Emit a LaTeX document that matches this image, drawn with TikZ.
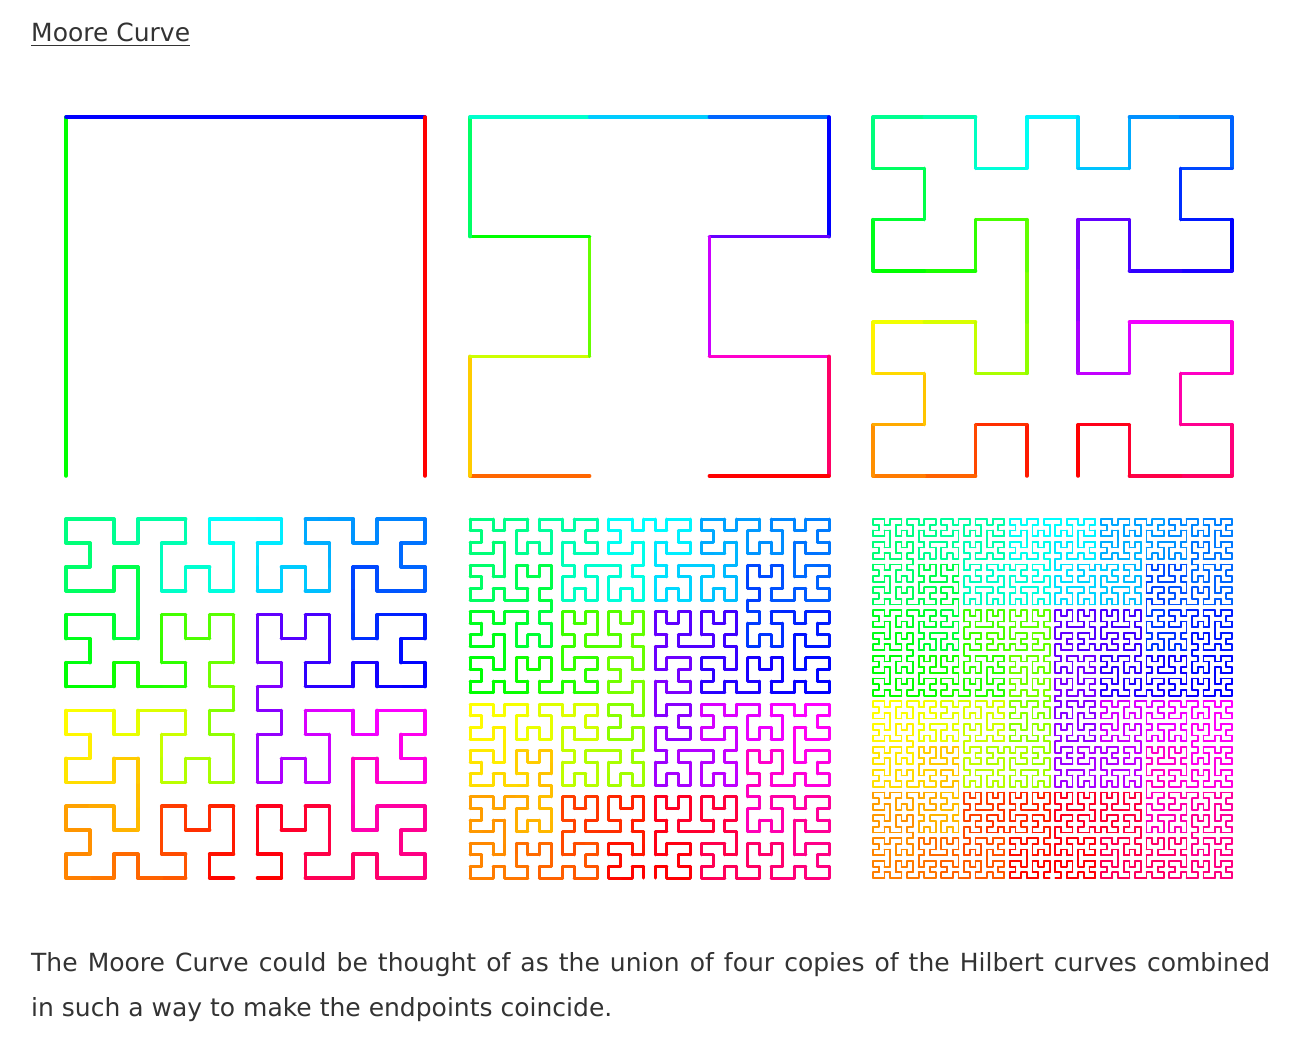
\documentclass[tikz,border=0pt]{standalone}
\usepackage{fontspec}
\setmainfont{DejaVu Sans}
\definecolor{textgray}{HTML}{333333}

\newcount\tx \newcount\ty \newcount\tdx \newcount\tdy \newcount\segi \newcount\hue \newcount\tmpc
\newdimen\ox \newdimen\oy \newdimen\stp
\def\segN{3}

% turtle turns: TP = clockwise, TM = counter-clockwise
\def\TP{\tmpc=\tdx\relax\global\tdx=\tdy\relax\global\tdy=-\tmpc\relax}
\def\TM{\tmpc=\tdx\relax\global\tdx=-\tdy\relax\global\tdy=\tmpc\relax}

\def\FF{%
  \global\advance\segi by 1\relax
  \hue=\numexpr 360*\segi/\segN\relax
  \ifnum\hue>359 \hue=0 \fi
  \convertcolorspec{Hsb}{\the\hue,1,1}{rgb}\segrgb
  \definecolor{segc}{rgb}{\segrgb}%
  \pgfsetstrokecolor{segc}%
  \pgfpathmoveto{\pgfqpoint{\dimexpr\ox+\stp*\tx\relax}{\dimexpr\oy+\stp*\ty\relax}}%
  \global\advance\tx by \tdx
  \global\advance\ty by \tdy
  \pgfpathlineto{\pgfqpoint{\dimexpr\ox+\stp*\tx\relax}{\dimexpr\oy+\stp*\ty\relax}}%
  \pgfusepath{stroke}%
}

\def\LL#1{\ifnum#1>0 \expandafter\doLL\expandafter{\the\numexpr#1-1\relax}\fi}
\def\RR#1{\ifnum#1>0 \expandafter\doRR\expandafter{\the\numexpr#1-1\relax}\fi}
\def\doLL#1{\TM\RR{#1}\FF\TP\LL{#1}\FF\LL{#1}\TP\FF\RR{#1}\TM}
\def\doRR#1{\TP\LL{#1}\FF\TM\RR{#1}\FF\RR{#1}\TM\FF\LL{#1}\TP}

% #1 L depth, #2 x0, #3 y0, #4 start x, #5 segments, #6 grid max, #7 line width
\def\moorepanel#1#2#3#4#5#6#7{%
  \begin{pgfscope}%
  \pgfsetlinewidth{#7}\pgfsetroundcap
  \global\ox=#2pt
  \global\oy=\dimexpr -#3pt-359pt\relax
  \global\stp=\dimexpr 359pt/#6\relax
  \global\tx=#4 \global\ty=0 \global\tdx=0 \global\tdy=1 \global\segi=0
  \def\segN{#5}%
  \LL{#1}\FF\LL{#1}\TP\FF\TP\LL{#1}\FF\LL{#1}%
  \end{pgfscope}}

\begin{document}
\begin{tikzpicture}[x=1pt,y=-1pt,
  txt/.style={anchor=base west, inner sep=0pt, text=textgray, font=\fontsize{25}{30}\selectfont}]
\fill[white] (0,0) rectangle (1316,1064);
\useasboundingbox (0,0) rectangle (1316,1064);

\node[txt] (title) at (31,42) {Moore Curve};
\draw[textgray, line width=1.5pt] ([yshift=-3.5pt]title.base west) -- ([yshift=-3.5pt]title.base east);

\moorepanel{0}{66}{117}{0}{3}{1}{3.5pt}
\moorepanel{1}{470}{117}{1}{15}{3}{3.5pt}
\moorepanel{2}{873}{117}{3}{63}{7}{3.5pt}
\moorepanel{3}{66}{519}{7}{255}{15}{3.5pt}
\moorepanel{4}{470}{519}{15}{1023}{31}{3pt}
\moorepanel{5}{873}{519}{31}{4095}{63}{1.8pt}

\node[txt] (cap1) at (31,971) {\makebox[1239pt][s]{The Moore Curve could be thought of as the union of four copies of the Hilbert curves combined}};
\node[txt] (cap2) at (31,1016) {in such a way to make the endpoints coincide.};
\end{tikzpicture}
\end{document}
